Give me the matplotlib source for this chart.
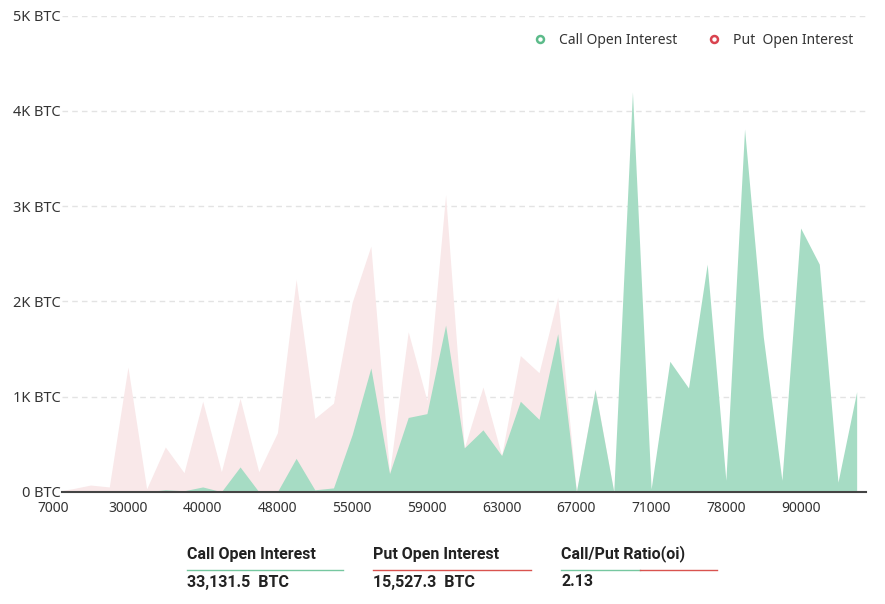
import numpy as np
import matplotlib.pyplot as plt
from matplotlib.lines import Line2D

plt.rcParams['font.family'] = ['Noto Sans', 'DejaVu Sans']

# strike prices (category axis), only every 4th is labelled
strikes = ["7000", "10000", "15000", "20000", "30000", "32000", "35000", "38000",
           "40000", "42000", "44000", "46000", "48000", "50000", "52000", "54000",
           "55000", "56000", "57000", "58000", "59000", "60000", "61000", "62000",
           "63000", "64000", "65000", "66000", "67000", "68000", "69000", "70000",
           "71000", "72000", "74000", "76000", "78000", "80000", "85000", "88000",
           "90000", "95000", "100000", "110000"]

# open interest in BTC
call_oi = [0, 0, 0, 0, 0, 0, 20, 10, 50, 0, 260, 0,
           0, 350, 20, 40, 600, 1300, 190, 780, 820, 1750, 460, 650,
           380, 950, 760, 1660, 0, 1070, 0, 4200, 30, 1370, 1090, 2390,
           120, 3810, 1630, 120, 2770, 2390, 100, 1050]
put_oi = [0, 30, 70, 50, 1310, 30, 470, 200, 950, 210, 980, 210,
          620, 2230, 770, 930, 1990, 2580, 200, 1680, 960, 3120, 460, 1100,
          380, 1430, 1250, 2040, 0, 1080, 0, 0, 0, 0, 0, 0,
          0, 0, 0, 0, 0, 0, 0, 0]

yticks = [0, 1000, 2000, 3000, 4000, 5000]
ytick_labels = ["0 BTC", "1K BTC", "2K BTC", "3K BTC", "4K BTC", "5K BTC"]

summary_heads = ["Call Open Interest", "Put Open Interest", "Call/Put Ratio(oi)"]
summary_vals = ["33,131.5  BTC", "15,527.3  BTC", "2.13"]

green = "#a6dcc4"
pink = "#f9e8e9"
green_dark = "#5cbb8a"
red_dark = "#d9434f"

fig = plt.figure(figsize=(8.85, 6.04), dpi=100)
W, H = 885, 604
ax = fig.add_axes([62 / W, 1 - 491.7 / H, (866 - 62) / W, (491.7 - 15.7) / H])

x = np.arange(len(strikes))
ax.fill_between(x, put_oi, color=pink, lw=0, zorder=1)
ax.fill_between(x, call_oi, color=green, lw=0, zorder=2)

ax.set_yticks(yticks)
ax.set_yticklabels(ytick_labels)
ax.set_xticks(x[::4])
ax.set_xticklabels(strikes[::4])
# limits after the ticks, set_xticks would widen them again
ax.set_xlim(0.47, len(strikes) - 0.5)
ax.set_ylim(0, 5000)
ax.tick_params(axis='y', length=0, pad=1, labelsize=10.5, labelcolor="#333333")
ax.tick_params(axis='x', length=0, pad=6.5, labelsize=10, labelcolor="#333333")

# first category sits just left of the plot area, matplotlib hides that tick
ax.annotate(strikes[0], xy=(x[0], 0), xycoords=("data", "axes fraction"),
            xytext=(0, -6.5), textcoords="offset points", ha="center", va="top",
            fontsize=10, color="#333333", annotation_clip=False)

for v in yticks[1:]:
    ax.axhline(v, color="#e3e3e3", lw=1, ls=(0, (4, 3)), zorder=0)

for s in ["top", "right", "left"]:
    ax.spines[s].set_visible(False)
ax.spines["bottom"].set_color("#444444")
ax.spines["bottom"].set_linewidth(1.5)
ax.spines["bottom"].set_zorder(5)

handles = [Line2D([], [], ls="", marker="o", ms=5, mfc="white", mec=green_dark, mew=1.8),
           Line2D([], [], ls="", marker="o", ms=5, mfc="white", mec=red_dark, mew=1.8)]
ax.legend(handles, ["Call Open Interest", "Put  Open Interest"], loc="upper right",
          bbox_to_anchor=(1.0, 0.99), ncol=2, frameon=False, fontsize=10,
          handletextpad=0.4, columnspacing=1.6, labelcolor="#333333")

# summary table under the chart
col_x = [187, 373, 561]
col_w = [156, 158, 156]
for i in range(3):
    fig.text(col_x[i] / W, 1 - 554 / H, summary_heads[i], fontsize=11.5,
             fontweight="semibold", family=["Roboto", "DejaVu Sans"],
             color="#222222", va="center", ha="left")
    fig.text(col_x[i] / W, 1 - 582 / H, summary_vals[i], fontsize=11.5,
             fontweight="bold", family=["Roboto", "DejaVu Sans"],
             color="#222222", va="center", ha="left")
    y_line = 1 - 570 / H
    x0 = col_x[i] / W
    x1 = (col_x[i] + col_w[i]) / W
    if i == 0:
        fig.add_artist(Line2D([x0, x1], [y_line, y_line], color="#76c7a0", lw=1))
    elif i == 1:
        fig.add_artist(Line2D([x0, x1], [y_line, y_line], color="#d9534f", lw=1))
    else:
        xm = 640 / W
        fig.add_artist(Line2D([x0, xm], [y_line, y_line], color="#76c7a0", lw=1))
        fig.add_artist(Line2D([xm, x1], [y_line, y_line], color="#d9534f", lw=1))

fig.savefig("out.png", dpi=100)
